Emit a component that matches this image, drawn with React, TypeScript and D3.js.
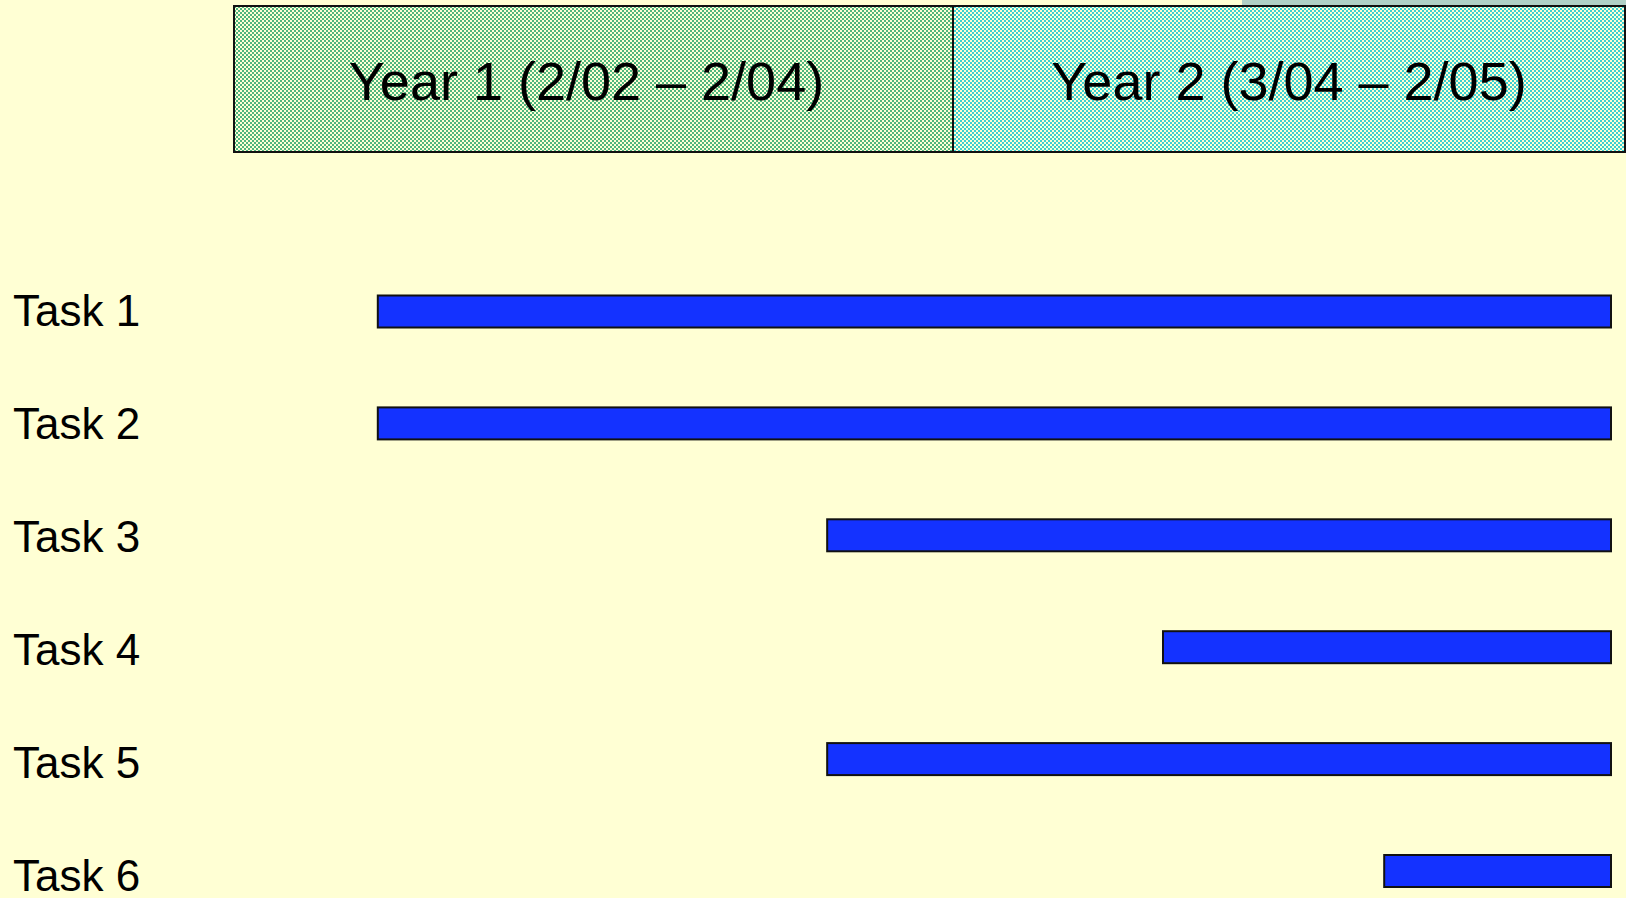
import * as d3 from 'd3';
import { useEffect } from 'react';

// timeline in project months; header boxes split at month 12
const periods = ['Year 1 (2/02 \u2013 2/04)', 'Year 2 (3/04 \u2013 2/05)'];
const periodStart = [0, 12];
const periodEnd = [12, 24];

const tasks = ['Task 1', 'Task 2', 'Task 3', 'Task 4', 'Task 5', 'Task 6'];
const taskStart = [2.4, 2.4, 9.9, 15.75, 9.9, 19.7];
const taskEnd = [23.75, 23.75, 23.75, 23.75, 23.75, 23.75];

const W = 1626;
const H = 898;
const font = "'Liberation Sans', Arial, sans-serif";

const App = () => {
    useEffect(() => {
        document.body.style.margin = '0';
        document.body.style.background = '#ffffd4';
    }, []);

    const x = d3.scaleLinear().domain([0, 12, 24]).range([234, 953, 1625]);
    const y = d3.scalePoint<string>().domain(tasks).range([311.5, 871]);
    // label baselines drift a little lower than the bars
    const yLabel = d3.scalePoint<string>().domain(tasks).range([326, 891]);
    const barH = 32;
    const headerTop = 6;
    const headerBottom = 152;
    const titleShift = [-7, 0];

    const patterns = [
        { id: 'chkGreen', color: '#4fb67e' },
        { id: 'chkCyan', color: '#3ed0d0' },
    ];

    return (
        <svg width={W} height={H} style={{ position: 'absolute', left: 0, top: 0, display: 'block' }}>
            <defs>
                {patterns.map(p => (
                    <pattern key={p.id} id={p.id} width="4" height="4" patternUnits="userSpaceOnUse">
                        <rect width="4" height="4" fill="#ffffd6" />
                        <rect width="2" height="2" fill={p.color} />
                        <rect x="2" y="2" width="2" height="2" fill={p.color} />
                    </pattern>
                ))}
            </defs>
            <rect width={W} height={H} fill="#ffffd4" />
            {/* grey strip along the top right edge */}
            <rect x={1242} y={0} width={W - 1242} height={headerTop} fill="#b0d0c6" />

            {periods.map((label, i) => (
                <g key={label}>
                    <rect
                        x={x(periodStart[i])}
                        y={headerTop}
                        width={x(periodEnd[i]) - x(periodStart[i])}
                        height={headerBottom - headerTop}
                        fill={`url(#${patterns[i].id})`}
                        stroke="#111"
                        strokeWidth={2}
                    />
                    <text
                        x={(x(periodStart[i]) + x(periodEnd[i])) / 2 + titleShift[i]}
                        y={100}
                        textAnchor="middle"
                        fontFamily={font}
                        fontSize={54}
                        fill="#000"
                    >{label}</text>
                </g>
            ))}

            {tasks.map((t, i) => (
                <g key={t}>
                    <text x={13} y={yLabel(t) ?? 0} fontFamily={font} fontSize={44} fill="#000">{t}</text>
                    <rect
                        x={x(taskStart[i])}
                        y={(y(t) ?? 0) - barH / 2}
                        width={x(taskEnd[i]) - x(taskStart[i])}
                        height={barH}
                        fill="#1432ff"
                        stroke="#111"
                        strokeWidth={2}
                    />
                </g>
            ))}
        </svg>
    );
};

export default App;
